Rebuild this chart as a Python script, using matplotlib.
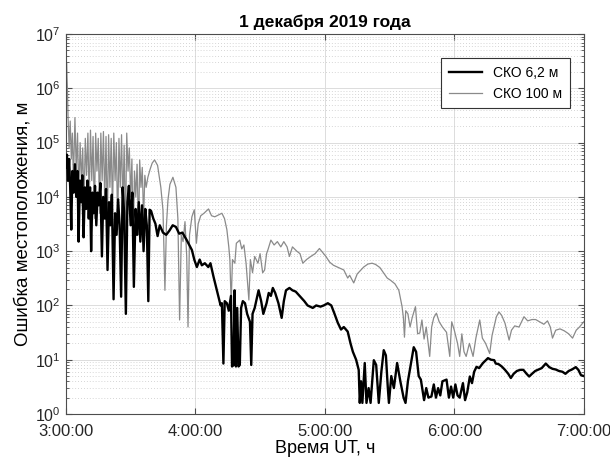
import matplotlib
matplotlib.use("Agg")
import matplotlib.pyplot as plt
from matplotlib.ticker import LogLocator, NullFormatter, FixedLocator

plt.rcParams.update({
    'font.family': ['Liberation Sans', 'DejaVu Sans'],
    'font.size': 10,
    'axes.linewidth': 0.8,
    'xtick.direction': 'in', 'ytick.direction': 'in',
    'xtick.top': True, 'ytick.right': True,
})

# minutes after 3:00:00 UT, error in metres
t_62 = [0.0, 0.5, 1.0, 1.5, 2.0, 2.5, 3.0, 3.6, 4.2, 4.8, 5.4, 5.9, 6.5, 7.1, 7.6, 8.2,
        8.8, 9.4, 10.0, 10.6, 11.2, 11.7, 12.3, 12.9, 13.5, 14.1, 14.7, 15.3, 16.0, 16.7,
        17.3, 18.0, 18.6, 19.3, 20.0, 20.6, 21.3, 22.1, 22.8, 23.5, 24.2, 24.9, 25.6, 26.3,
        27.0, 27.8, 28.5, 29.2, 30.0, 30.8, 31.5, 32.3, 33.0, 33.8, 34.5, 35.3, 36.0, 36.8,
        37.5, 38.2, 38.8, 39.5, 40.5, 41.5, 42.5, 43.5, 45.0, 46.5, 48.0, 49.5, 51.0, 52.5,
        54.0, 56.0, 58.4, 59.5, 60.7, 62.0, 63.0, 64.4, 66.0, 67.0, 68.4, 70.7, 71.7, 72.3,
        73.0, 73.6, 74.6, 75.5, 76.5, 77.0, 77.7, 78.2, 78.8, 79.4, 80.0, 80.6, 81.2, 82.0,
        83.0, 84.0, 85.3, 85.9, 86.5, 87.5, 89.3, 90.5, 91.5, 93.0, 94.0, 95.0, 95.9, 97.0,
        98.5, 100.0, 101.0, 102.0, 103.6, 105.0, 106.5, 109.0, 110.5, 112.0, 114.4, 116.0,
        118.0, 119.5, 121.4, 123.0, 124.5, 126.0, 127.5, 128.8, 130.6, 131.9, 133.0, 134.5,
        135.7, 136.2, 136.8, 137.4, 138.5, 139.3, 140.3, 141.2, 142.7, 143.8, 145.0, 146.2,
        147.3, 148.3, 149.2, 149.7, 150.8, 152.0, 153.5, 155.0, 156.5, 157.4, 158.5, 160.0,
        161.2, 162.3, 163.5, 164.5, 166.0, 167.0, 168.0, 169.4, 170.5, 171.5, 172.5, 173.5,
        174.5, 176.4, 177.5, 178.5, 179.5, 180.5, 181.5, 182.5, 184.0, 185.0, 186.0, 187.2,
        188.2, 189.2, 190.3, 191.5, 193.3, 195.6, 197.0, 198.5, 199.2, 200.5, 202.0, 203.5,
        205.0, 206.2, 207.5, 209.0, 210.5, 212.0, 213.5, 214.7, 216.0, 217.5, 219.0, 220.5,
        222.4, 224.0, 225.5, 227.0, 228.5, 230.1, 231.5, 233.0, 234.5, 236.3, 237.5, 238.7,
        240.0]
err_62 = [3.5e4, 6e4, 2e4, 5e4, 1.5e4, 2.5e3, 3e4, 1.2e4, 4e4, 1e4, 3e4, 1.5e3, 2e4, 8e3,
          2.5e4, 1.8e3, 1.5e4, 6e3, 2e4, 4e3, 1.5e4, 1.0e3, 1.2e4, 5e3, 1.6e4, 3e3, 1.2e4,
          7e3, 1.8e4, 8e2, 1.0e4, 4e3, 1.4e4, 4.5e2, 8e3, 3e3, 1.1e4, 1.3e2, 5e3, 2e3, 9e3,
          3e3, 1.45e2, 1.5e4, 5e3, 7e1, 8e3, 1.6e4, 3e3, 1.2e4, 2.2e2, 6e3, 2e3, 8e3, 1.5e3,
          7e3, 1e3, 6e3, 3e3, 1.2e2, 5.8e3, 5.5e3, 4e3, 3.2e3, 1.9e3, 3e3, 2.2e3, 2e3, 2.4e3,
          3e3, 2.8e3, 2.1e3, 2.2e3, 1.6e3, 1.05e3, 7e2, 5.1e2, 7e2, 5.5e2, 6e2, 5.1e2, 6e2,
          3.4e2, 1.45e2, 1.0e2, 1.1e2, 8.5, 1.2e2, 1.1e2, 80, 1.5e2, 7.5, 8, 1.9e2, 7.5, 90,
          7.5, 8, 90, 1.2e2, 1.1e2, 70, 50, 8, 70, 90, 1.9e2, 1.2e2, 70, 1.1e2, 1.7e2, 1.5e2,
          2.1e2, 1.7e2, 1.1e2, 59, 1.2e2, 1.9e2, 2.1e2, 1.9e2, 1.8e2, 1.4e2, 1.2e2, 1.0e2,
          90, 1.0e2, 95, 1.0e2, 1.1e2, 1.0e2, 70, 48, 36, 40, 33, 20, 14, 10, 6.5, 1.6, 4,
          1.6, 8.7, 1.6, 3, 1.6, 9.8, 8, 1.6, 6, 15, 12, 3, 1.6, 5, 3, 8.7, 4, 2, 1.6, 4, 9,
          17, 14, 5, 4.3, 1.8, 3, 2, 2.1, 3.5, 2, 3, 2.2, 4, 4.3, 2, 3.2, 2, 3.5, 2.2, 2,
          3.7, 1.8, 2.5, 4.9, 3.7, 6, 7.4, 7, 8.7, 10.7, 10, 9.8, 8.5, 8.3, 7.5, 6.5, 5.5,
          4.6, 5.5, 6.2, 6.5, 6.5, 5.5, 4.9, 5.5, 6.2, 6.6, 7, 8.5, 7.3, 6.8, 6.6, 6.2, 6.0,
          5.5, 6.2, 6.6, 7.3, 6.5, 5.2, 5.0]

t_100 = [0.0, 0.3, 0.7, 1.0, 1.5, 2.0, 2.5, 3.0, 3.5, 4.2, 4.8, 5.4, 6.0, 6.6, 7.2, 7.8,
         8.4, 9.0, 9.6, 10.2, 10.8, 11.4, 12.0, 12.6, 13.2, 13.8, 14.4, 15.0, 15.6, 16.2,
         16.8, 17.4, 18.0, 18.6, 19.2, 19.8, 20.4, 21.0, 21.6, 22.2, 22.8, 23.4, 24.0, 24.6,
         25.2, 25.8, 26.4, 27.0, 27.6, 28.2, 28.8, 29.4, 30.0, 30.6, 31.2, 31.8, 32.4, 33.0,
         33.7, 34.2, 34.8, 35.4, 36.0, 36.6, 37.2, 38.0, 39.0, 40.0, 41.1, 42.5, 44.0, 45.0,
         45.9, 46.6, 47.3, 48.2, 49.6, 51.0, 51.9, 52.7, 53.5, 54.3, 55.2, 56.0, 56.6, 57.3,
         58.4, 59.5, 60.5, 61.3, 62.5, 64.0, 66.1, 67.5, 69.0, 70.5, 72.3, 73.5, 74.6, 75.5,
         76.0, 76.6, 77.2, 78.3, 79.0, 80.6, 81.5, 82.5, 83.5, 84.8, 85.5, 86.5, 87.5, 89.0,
         90.0, 91.2, 92.1, 93.0, 93.6, 95.0, 96.5, 98.0, 99.6, 101.0, 102.5, 103.6, 105.0,
         107.0, 108.5, 109.8, 111.5, 113.5, 115.5, 117.5, 119.0, 120.5, 122.2, 124.0, 126.8,
         128.8, 130.6, 131.5, 133.4, 135.0, 138.0, 140.0, 141.9, 143.5, 145.5, 148.9, 150.5,
         152.5, 154.3, 155.8, 156.4, 156.9, 157.5, 158.5, 159.5, 160.5, 162.0, 163.0, 164.0,
         165.0, 166.0, 167.0, 168.6, 169.5, 170.5, 171.7, 173.0, 174.5, 176.4, 177.9, 178.8,
         180.0, 181.5, 182.5, 183.5, 184.5, 185.5, 187.0, 188.7, 190.0, 191.8, 193.0, 194.5,
         196.4, 197.5, 199.5, 200.7, 202.0, 203.5, 205.4, 206.5, 208.0, 210.0, 212.3, 214.0,
         216.0, 217.7, 219.5, 221.5, 223.2, 224.5, 225.5, 227.0, 229.0, 231.0, 233.0, 234.8,
         236.5, 238.0, 239.4, 240.0]
err_100 = [2e5, 3e6, 1e6, 3e5, 8e4, 2.5e5, 5e4, 1.5e5, 2e4, 2.9e5, 3e4, 1.5e5, 1e4, 1e5,
           2e4, 8e4, 6e3, 1.2e5, 2.5e4, 1.5e5, 8e3, 1.7e5, 2e4, 1.3e5, 4e3, 1.5e5, 3e4,
           1.2e5, 5e3, 1.5e5, 2e4, 1.6e5, 8e3, 1.3e5, 3e3, 1.4e5, 1.5e4, 1.2e5, 5e3, 1.5e5,
           2e4, 1e5, 2.5e3, 1.2e5, 1.5e4, 1.4e5, 6e3, 9e4, 2e3, 1.5e5, 3e4, 8e4, 1e4, 5e4,
           1.5e3, 3e4, 1e4, 4e4, 2e3, 4.8e4, 1.5e4, 3.5e4, 4e3, 2.5e4, 1.5e4, 2.3e4, 3.2e4,
           4.2e4, 4.8e4, 3.8e4, 1.5e4, 5.7e3, 1.9e2, 3e3, 8.7e3, 1.7e4, 2.3e4, 1.5e4, 4e3,
           54, 2e3, 1.5e3, 3.5e3, 8e2, 40, 2e3, 4.3e3, 5.8e3, 1.4e3, 3.2e3, 4.5e3, 5e3, 6e3,
           4.5e3, 4.3e3, 4.6e3, 5e3, 4e3, 2.5e3, 1.2e3, 6.9e2, 1.1e2, 7e2, 6e2, 1.4e3, 1.6e3,
           1.1e3, 1.3e3, 6e2, 1.26e2, 7e2, 4e2, 8e2, 6e2, 9e2, 4e2, 4.5e2, 9e2, 1.05e3,
           1.6e3, 1.3e3, 1.5e3, 1.2e3, 1.5e3, 1.2e3, 8e2, 1.2e3, 1e3, 9e2, 6e2, 7e2, 8e2,
           9e2, 1.12e3, 9.5e2, 8e2, 6.3e2, 5.5e2, 4.9e2, 4.5e2, 3.2e2, 3.6e2, 2.6e2, 3.8e2,
           5.1e2, 5.8e2, 6e2, 5.7e2, 5e2, 3.2e2, 2.9e2, 2.5e2, 1.9e2, 95, 60, 26, 80, 70, 40,
           60, 95, 30, 31, 54, 24, 40, 11.5, 40, 60, 72, 50, 40, 32, 11.5, 50, 35, 20, 11.5,
           30, 14, 11.5, 20, 11.5, 25, 54, 25, 20, 13, 28, 62, 76, 65, 47, 23, 35, 42, 40, 62,
           52, 55, 55, 50, 45, 52, 40, 25, 35, 37, 34, 30, 25, 35, 40, 47, 50]

hour_ticks = [0, 60, 120, 180, 240]
hour_labels = ["3:00:00", "4:00:00", "5:00:00", "6:00:00", "7:00:00"]

fig = plt.figure(figsize=(6.1, 4.61), dpi=100)
ax = fig.add_axes([0.108, 0.102, 0.849, 0.824])

ax.plot(t_62, err_62, color="black", linewidth=1.7, label="СКО 6,2 м", zorder=3)
ax.plot(t_100, err_100, color="#8a8a8a", linewidth=0.9, label="СКО 100 м", zorder=2)

ax.set_yscale("log")
ax.set_ylim(1, 1e7)
ax.set_xlim(0, 240)
ax.xaxis.set_major_locator(FixedLocator(hour_ticks))
ax.set_xticklabels(hour_labels)
ax.yaxis.set_major_locator(LogLocator(base=10, numticks=10))
ax.yaxis.set_minor_locator(LogLocator(base=10, subs=range(2, 10), numticks=100))
ax.yaxis.set_minor_formatter(NullFormatter())

ax.grid(which="major", color="#dcdcdc", linewidth=0.7)
ax.grid(which="minor", axis="y", color="#c8c8c8", linestyle=(0, (1, 2.5)), linewidth=0.6)
ax.set_axisbelow(True)

for s in ax.spines.values():
    s.set_color("#4d4d4d")
ax.tick_params(which="both", colors="#4d4d4d", labelcolor="#262626")
ax.tick_params(axis="x", which="major", length=4, labelsize=12, pad=7)
ax.tick_params(axis="y", which="major", length=4, labelsize=11.5, pad=4)
ax.tick_params(which="minor", length=2)

ax.set_title("1 декабря 2019 года", fontsize=12.5, fontweight="bold", pad=5)
ax.set_xlabel("Время UT, ч", fontsize=13, labelpad=1)
ax.set_ylabel("Ошибка местоположения, м", fontsize=13.5, labelpad=2)

leg = ax.legend(loc="upper right", bbox_to_anchor=(0.973, 0.937), borderaxespad=0,
                fancybox=False, framealpha=1, edgecolor="#333333", fontsize=10,
                handlelength=2.4, borderpad=0.55, labelspacing=0.5)
leg.get_frame().set_linewidth(0.8)

fig.savefig("out.png", dpi=100)
